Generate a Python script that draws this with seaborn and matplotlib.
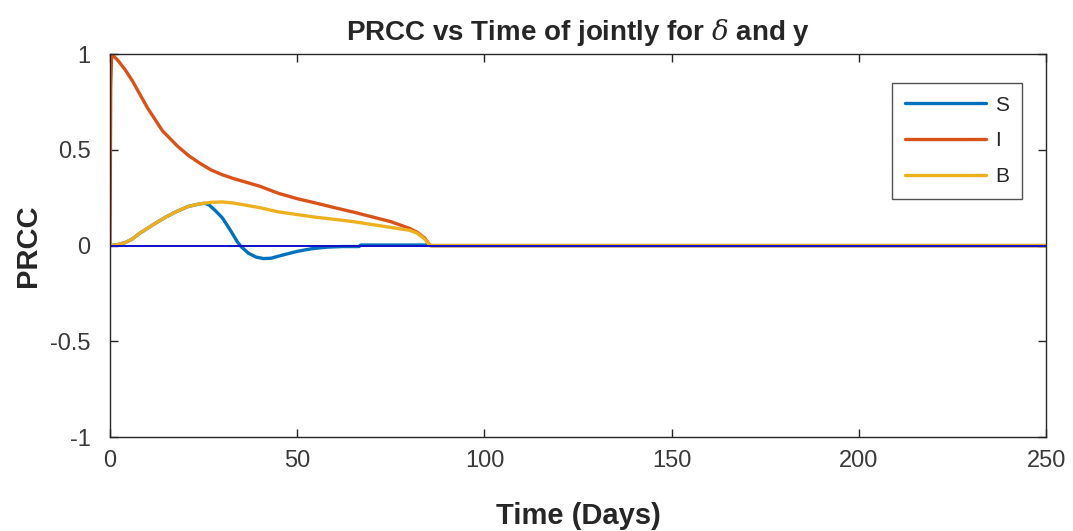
import matplotlib
matplotlib.use("Agg")
import matplotlib.pyplot as plt
import seaborn as sns
import pandas as pd

# ---- data ----
t_I = [0, 0.2, 0.45, 2, 4, 6, 8, 10, 12, 14, 16, 18, 21, 24, 27, 30, 33, 36, 40, 45,
       50, 55, 60, 65, 70, 75, 80, 82, 84, 85.5, 250]
prcc_I = [0, 0.83, 1.0, 0.97, 0.92, 0.86, 0.79, 0.72, 0.66, 0.60, 0.56, 0.52, 0.47,
          0.43, 0.395, 0.37, 0.35, 0.333, 0.31, 0.273, 0.245, 0.222, 0.198, 0.175,
          0.15, 0.125, 0.09, 0.07, 0.04, 0.0, 0.0]

t_B = [0, 2, 4, 6, 8, 10, 12, 15, 18, 21, 24, 27, 30, 33, 36, 40, 45, 50, 55, 60,
       65, 70, 75, 80, 82, 84, 85.5, 250]
prcc_B = [0, 0.005, 0.015, 0.035, 0.065, 0.09, 0.115, 0.15, 0.18, 0.205, 0.218,
          0.226, 0.228, 0.222, 0.212, 0.198, 0.176, 0.162, 0.148, 0.137, 0.125,
          0.11, 0.095, 0.08, 0.065, 0.035, 0.0, 0.0]

t_S = [0, 2, 4, 6, 8, 10, 12, 15, 18, 21, 24, 25.3, 26.5, 28, 30, 32, 34, 35, 37,
       39, 41, 43, 46, 50, 54, 58, 62, 66.5, 67, 85, 86, 250]
prcc_S = [0, 0.005, 0.015, 0.035, 0.065, 0.09, 0.115, 0.15, 0.18, 0.205, 0.218,
          0.221, 0.212, 0.185, 0.145, 0.085, 0.02, -0.005, -0.04, -0.06, -0.068,
          -0.066, -0.05, -0.03, -0.016, -0.008, -0.005, -0.005, 0.003, 0.003, 0.0, 0.0]

zero_t = [0, 250]
zero_v = [0, 0]

series_names = ["S", "I", "B"]
colors = {"S": "#0072BD", "I": "#D95319", "B": "#EDB120"}

frames = []
for name, tt, vv in [("S", t_S, prcc_S), ("I", t_I, prcc_I), ("B", t_B, prcc_B)]:
    frames.append(pd.DataFrame({"t": tt, "v": vv, "series": name}))
df = pd.concat(frames, ignore_index=True)

sns.set_style("white")
plt.rcParams["font.family"] = ["Liberation Sans", "DejaVu Sans"]
plt.rcParams["mathtext.fontset"] = "dejavuserif"

fig = plt.figure(figsize=(10.73, 5.31), dpi=100)
ax = fig.add_axes([0.1025, 0.177, 0.8725, 0.721])

sns.lineplot(data=df, x="t", y="v", hue="series", hue_order=series_names,
             palette=colors, estimator=None, sort=False, linewidth=2.4, ax=ax)
sns.lineplot(x=zero_t, y=zero_v, color="#1010c8", linewidth=1.4, ax=ax, legend=False)

ax.set_xlim(0, 250)
ax.set_ylim(-1, 1)
ax.set_xticks([0, 50, 100, 150, 200, 250])
ax.set_yticks([-1, -0.5, 0, 0.5, 1])
ax.set_yticklabels(["-1", "-0.5", "0", "0.5", "1"])
ax.tick_params(direction="in", length=6, width=1, labelsize=17, colors="#262626",
               bottom=True, left=True, top=True, right=True)
ax.tick_params(axis="both", labelcolor="#3a3a3a")
ax.tick_params(axis="x", pad=9)
ax.tick_params(axis="y", pad=14)
for s in ax.spines.values():
    s.set_color("#262626")
    s.set_linewidth(1.0)

ax.set_title(r"PRCC vs Time of jointly for $\delta$ and y", fontsize=20,
             fontweight="bold", pad=10)
ax.set_xlabel("Time (Days)", fontsize=21, fontweight="bold", labelpad=22)
ax.set_ylabel("PRCC", fontsize=21, fontweight="bold", labelpad=6)

leg = ax.legend(loc="upper right", bbox_to_anchor=(0.974, 0.924), fontsize=15,
                frameon=True, fancybox=False, edgecolor="#262626",
                handlelength=3.9, handletextpad=0.45, borderpad=0.6,
                labelspacing=0.8, borderaxespad=0)
leg.get_frame().set_linewidth(1.0)

fig.savefig("out.png", dpi=100)
